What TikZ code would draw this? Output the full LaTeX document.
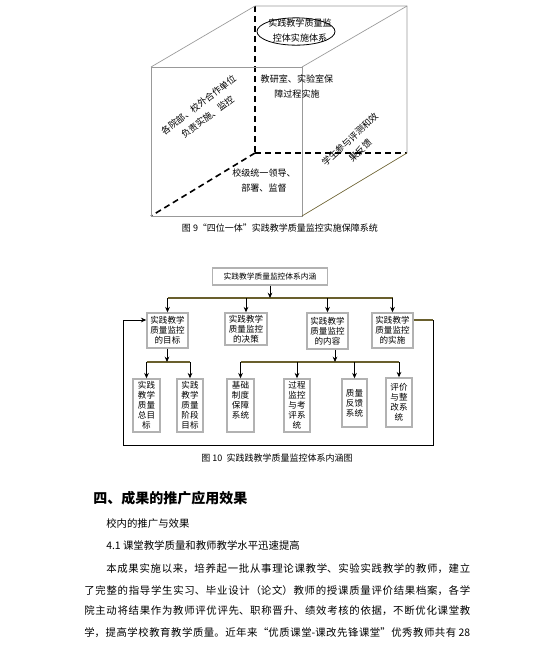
\documentclass[tikz,border=0pt]{standalone}
\usepackage{fontspec}
\newfontfamily\cjk{Noto Sans CJK SC}
\usetikzlibrary{arrows.meta,shapes.geometric}
\definecolor{busc}{RGB}{105,95,45}
\newcommand{\fz}[2]{\fontsize{#1}{#2}\selectfont}
\newcommand{\jl}[2]{\parbox[b]{#1}{\XeTeXlinebreaklocale "zh"\XeTeXlinebreakskip=0pt plus 1em\parfillskip=0pt\relax #2}}
\begin{document}
\begin{tikzpicture}[x=0.75pt,y=-0.75pt,
  cubeline/.style={draw=gray!80,line width=0.5pt},
  hidden/.style={draw=black,line width=1.2pt,dash pattern=on 4.5pt off 3pt},
  cubetxt/.style={font=\cjk\fz{6.8}{11.25}, align=center, inner sep=0pt},
  flowbox/.style={draw=gray!60,line width=1.1pt,fill=white,inner sep=0pt,align=center,font=\cjk\fz{6.4}{7.5}},
  arr/.style={draw=black,line width=0.7pt,-{Stealth[length=4pt,width=3.5pt]}},
  busline/.style={draw=busc,line width=0.9pt},
  plain/.style={draw=black,line width=0.7pt},
  captxt/.style={font=\cjk\fz{6.75}{8}, inner sep=0pt},
  bodytxt/.style={font=\cjk\fz{7.8}{9}, inner sep=0pt, anchor=base west}
]
\useasboundingbox (0,0) rectangle (553,651);
\fill[white] (0,0) rectangle (553,651);

% ---------- cube ----------
\coordinate (F1) at (151,67);
\coordinate (F2) at (302,67);
\coordinate (F3) at (302,216);
\coordinate (F4) at (151,216);
\coordinate (B1) at (255,6);
\coordinate (B2) at (407,6);
\coordinate (B3) at (407,153);
\coordinate (B4) at (255,153);
\draw[hidden] (B1) -- (B4);
\draw[hidden] (B4) -- (B3);
\draw[hidden] (B4) -- (F4);
\draw[cubeline] (F1) -- (F2) -- (F3) -- (F4) -- cycle;
\draw[cubeline] (F1) -- (B1) -- (B2) -- (B3);
\draw[cubeline] (F2) -- (B2);
\draw[cubeline,draw=busc] (F3) -- (B3);

\node[ellipse, draw=black, line width=0.6pt, fill=white, minimum width=58.5pt, minimum height=20.5pt, inner sep=0pt] (ell) at (296,31.5) {};
\node[cubetxt] (elltxt) at (300,30.5) {实践教学质量监\\控体实施体系};
\node[cubetxt] (t2) at (297,87) {教研室、实验室保\\障过程实施};
\node[cubetxt, rotate=37] (t3) at (203,111) {各院部、校外合作单位\\负责实施、监控};
\node[cubetxt, rotate=43] (t4) at (355,145) {学生参与评测和效\\果反馈};
\node[cubetxt] (t5) at (264,181) {校级统一领导、\\部署、监督};
\node[captxt] (cap1) at (280,228) {图 9“四位一体”实践教学质量监控实施保障系统};

% ---------- flow chart ----------
\node[flowbox, minimum width=86.25pt, minimum height=12.75pt, font=\cjk\fz{5.8}{7}] (top) at (270,276.5) {实践教学质量监控体系内涵};
\node[flowbox, minimum width=30.75pt, minimum height=26.25pt] (b1) at (167.5,330.5) {实践教学\\质量监控\\的目标};
\node[flowbox, minimum width=31.5pt, minimum height=24pt] (b2) at (246,329) {实践教学\\质量监控\\的决策};
\node[flowbox, minimum width=30.75pt, minimum height=27pt] (b3) at (327.5,331) {实践教学\\质量监控\\的内容};
\node[flowbox, minimum width=30.75pt, minimum height=26.25pt] (b4) at (392.5,330.5) {实践教学\\质量监控\\的实施};

\node[flowbox, minimum width=20.25pt, minimum height=39.75pt] (sA) at (146.5,405.5) {实践\\教学\\质量\\总目\\标};
\node[flowbox, minimum width=19.5pt, minimum height=39.75pt] (sB) at (190,405.5) {实践\\教学\\质量\\阶段\\目标};
\node[flowbox, minimum width=20.25pt, minimum height=39.75pt] (sC) at (240.5,405.5) {基础\\制度\\保障\\系统\\[1.5pt]};
\node[flowbox, minimum width=19.5pt, minimum height=39.75pt] (sD) at (297,405.5) {过程\\监控\\与考\\评系\\统};
\node[flowbox, minimum width=18.75pt, minimum height=36pt] (sE) at (354.5,403) {质量\\反馈\\系统};
\node[flowbox, minimum width=19.5pt, minimum height=36.75pt] (sF) at (399,402.5) {评价\\与整\\改系\\统};

% main bus
\coordinate (busY) at (270,298);
\draw[busline] (b1.north |- busY) -- (b4.north |- busY);
\draw[arr] (top.south) -- (busY);
\foreach \b in {b1,b2,b3,b4} \draw[arr] (\b.north |- busY) -- (\b.north);

% sub bus 1
\coordinate (sub1) at (167,362);
\draw[busline] (sA.north |- sub1) -- (sB.north |- sub1);
\draw[arr] (b1.south -| sub1) -- (sub1);
\foreach \b in {sA,sB} \draw[arr] (\b.north |- sub1) -- (\b.north);

% sub bus 2
\coordinate (sub2) at (335,362);
\draw[busline] (sC.north |- sub2) -- (sF.north |- sub2);
\draw[arr] (b3.south -| sub2) -- (sub2);
\foreach \b in {sC,sD,sE,sF} \draw[arr] (\b.north |- sub2) -- (\b.north);

% feedback loop
\coordinate (fbY) at (0,320);
\coordinate (fbR) at (433,320);
\coordinate (fbBR) at (433,445);
\coordinate (fbBL) at (123,445);
\coordinate (fbL) at (123,320);
\draw[busline] (b4.east |- fbY) -- (fbR);
\draw[plain] (fbR) -- (fbBR) -- (fbBL) -- (fbL);
\draw[arr] (fbL) -- (b1.west |- fbY);

\node[captxt] (cap2) at (277,458) {图 10\ \ 实践践教学质量监控体系内涵图};

% ---------- body text ----------
\node[bodytxt, font=\cjk\bfseries\fz{10.5}{12}] (h) at (93,503) {四、成果的推广应用效果};
\node[bodytxt] (l1) at (106,527) {校内的推广与效果};
\node[bodytxt] (l2) at (106,549) {4.1 课堂教学质量和教师教学水平迅速提高};
\node[bodytxt] (p1) at (106,572) {\jl{273pt}{本成果实施以来，培养起一批从事理论课教学、实验实践教学的教师，建立}};
\node[bodytxt] (p2) at (84,594) {\jl{289.5pt}{了完整的指导学生实习、毕业设计（论文）教师的授课质量评价结果档案，各学}};
\node[bodytxt] (p3) at (84,614) {\jl{289.5pt}{院主动将结果作为教师评优评先、职称晋升、绩效考核的依据，不断优化课堂教}};
\node[bodytxt] (p4) at (84,636) {\jl{289.5pt}{学，提高学校教育教学质量。近年来“优质课堂-课改先锋课堂”优秀教师共有 28}};
\end{tikzpicture}
\end{document}
